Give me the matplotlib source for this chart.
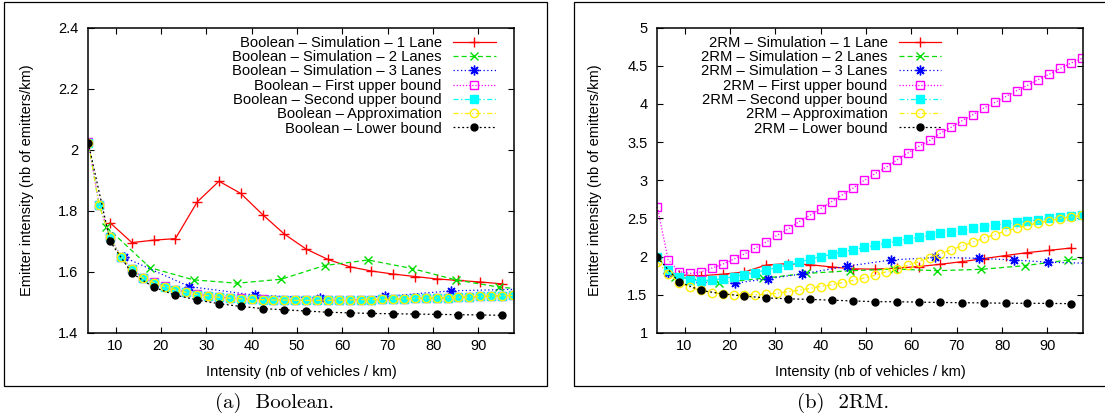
import matplotlib
matplotlib.use("Agg")
import matplotlib.pyplot as plt
from matplotlib.patches import Rectangle

plt.rcParams['font.family'] = ['Liberation Sans', 'DejaVu Sans']

#Abscisses communes (intensité en véhicules / km)
x_grille = [4.0, 6.4, 8.8, 11.2, 13.6, 16.0, 18.4, 20.8, 23.2, 25.6,
            28.0, 30.4, 32.8, 35.2, 37.6, 40.0, 42.4, 44.8, 47.2, 49.6,
            52.0, 54.4, 56.8, 59.2, 61.6, 64.0, 66.4, 68.8, 71.2, 73.6,
            76.0, 78.4, 80.8, 83.2, 85.6, 88.0, 90.4, 92.8, 95.2, 97.6]
x_pair = [4.0, 8.8, 13.6, 18.4, 23.2, 28.0, 32.8, 37.6, 42.4, 47.2,
          52.0, 56.8, 61.6, 66.4, 71.2, 76.0, 80.8, 85.6, 90.4, 95.2]

################ Boolean ################
bool_sim1_x = [8.8, 13.6, 18.4, 23.2, 28.0, 32.8, 37.6, 42.4, 47.2, 52.0,
               56.8, 61.6, 66.4, 71.2, 76.0, 80.8, 85.6, 90.4, 95.2]
bool_sim1_y = [1.761, 1.696, 1.704, 1.709, 1.829, 1.897, 1.857, 1.788, 1.724, 1.675,
               1.641, 1.617, 1.603, 1.593, 1.585, 1.577, 1.572, 1.567, 1.561]
bool_sim2_x = [7.95, 17.6, 27.2, 36.8, 46.5, 56.1, 65.7, 75.4, 85.0, 94.6, 97.9]
bool_sim2_y = [1.748, 1.614, 1.574, 1.563, 1.576, 1.621, 1.639, 1.611, 1.574, 1.550, 1.546]
bool_sim3_x = [11.9, 26.3, 40.7, 55.1, 69.5, 83.9, 97.9]
bool_sim3_y = [1.648, 1.552, 1.524, 1.514, 1.520, 1.538, 1.543]
bool_borne1_y = [2.024, 1.820, 1.715, 1.650, 1.610, 1.581, 1.566, 1.553, 1.542, 1.534,
                 1.527, 1.522, 1.518, 1.515, 1.513, 1.511, 1.510, 1.509, 1.508, 1.508,
                 1.507, 1.507, 1.507, 1.508, 1.508, 1.509, 1.509, 1.510, 1.511, 1.512,
                 1.513, 1.514, 1.515, 1.516, 1.517, 1.518, 1.520, 1.521, 1.522, 1.523]
bool_borne2_y = [2.022, 1.818, 1.713, 1.648, 1.609, 1.580, 1.565, 1.552, 1.541, 1.533,
                 1.526, 1.522, 1.517, 1.514, 1.512, 1.510, 1.509, 1.508, 1.508, 1.507,
                 1.507, 1.507, 1.507, 1.508, 1.508, 1.509, 1.509, 1.510, 1.511, 1.512,
                 1.513, 1.514, 1.515, 1.516, 1.517, 1.518, 1.520, 1.521, 1.522, 1.523]
bool_approx_y = [2.022, 1.818, 1.713, 1.648, 1.609, 1.580, 1.565, 1.552, 1.541, 1.533,
                 1.526, 1.522, 1.517, 1.514, 1.512, 1.510, 1.509, 1.508, 1.508, 1.507,
                 1.507, 1.507, 1.507, 1.508, 1.508, 1.509, 1.509, 1.510, 1.511, 1.512,
                 1.513, 1.514, 1.515, 1.516, 1.517, 1.518, 1.520, 1.521, 1.522, 1.523]
bool_inf_y = [2.022, 1.700, 1.596, 1.550, 1.524, 1.508, 1.496, 1.487, 1.480, 1.476,
              1.472, 1.468, 1.466, 1.464, 1.463, 1.462, 1.461, 1.460, 1.459, 1.458]

################ 2RM ################
rm_sim1_x = [6.4, 8.8, 13.6, 18.4, 23.2, 28.0, 32.8, 37.6, 42.4, 47.2,
             52.0, 56.8, 61.6, 66.4, 71.2, 76.0, 80.8, 85.6, 90.4, 95.2]
rm_sim1_y = [1.80, 1.76, 1.75, 1.77, 1.80, 1.89, 1.91, 1.895, 1.865, 1.84,
             1.836, 1.85, 1.87, 1.90, 1.935, 1.975, 2.015, 2.053, 2.083, 2.113]
rm_sim2_x = [7.95, 17.6, 27.2, 36.8, 46.5, 56.1, 65.7, 75.4, 85.0, 94.6, 97.9]
rm_sim2_y = [1.74, 1.657, 1.716, 1.78, 1.815, 1.838, 1.816, 1.834, 1.882, 1.956, 1.978]
rm_sim3_x = [6.4, 13.6, 21.1, 28.5, 36.0, 45.8, 55.5, 65.3, 75.0, 82.6, 90.1, 97.9]
rm_sim3_y = [1.783, 1.665, 1.652, 1.712, 1.774, 1.875, 1.956, 1.990, 1.978, 1.956, 1.928, 1.915]
rm_borne1_y = [2.652, 1.957, 1.804, 1.780, 1.800, 1.850, 1.900, 1.965, 2.035, 2.113,
               2.190, 2.280, 2.360, 2.457, 2.540, 2.630, 2.720, 2.810, 2.900, 3.000,
               3.087, 3.170, 3.265, 3.356, 3.443, 3.522, 3.617, 3.696, 3.783, 3.860,
               3.948, 4.020, 4.096, 4.174, 4.243, 4.320, 4.390, 4.465, 4.535, 4.596]
rm_borne2_y = [2.000, 1.826, 1.740, 1.696, 1.683, 1.696, 1.709, 1.740, 1.760, 1.790,
               1.826, 1.857, 1.890, 1.926, 1.965, 2.000, 2.030, 2.060, 2.090, 2.120,
               2.148, 2.174, 2.204, 2.230, 2.252, 2.278, 2.304, 2.326, 2.348, 2.370,
               2.390, 2.413, 2.430, 2.448, 2.465, 2.483, 2.500, 2.517, 2.530, 2.540]
rm_approx_y = [1.935, 1.774, 1.660, 1.600, 1.557, 1.530, 1.513, 1.504, 1.500, 1.500,
               1.509, 1.520, 1.540, 1.560, 1.583, 1.609, 1.630, 1.660, 1.690, 1.720,
               1.757, 1.800, 1.840, 1.887, 1.935, 1.987, 2.040, 2.090, 2.140, 2.190,
               2.245, 2.290, 2.335, 2.374, 2.410, 2.443, 2.472, 2.497, 2.520, 2.540]
rm_inf_y = [1.990, 1.670, 1.557, 1.513, 1.483, 1.460, 1.448, 1.440, 1.430, 1.420,
            1.410, 1.410, 1.404, 1.400, 1.397, 1.394, 1.390, 1.389, 1.388, 1.384]

legendes = ["Simulation \u2013 1 Lane", "Simulation \u2013 2 Lanes", "Simulation \u2013 3 Lanes",
            "First upper bound", "Second upper bound", "Approximation", "Lower bound"]

#Styles des courbes (couleur, tirets, marqueur)
styles = [
    dict(color='#ff0000', linestyle='-', marker='+', ms=6.5, mew=1.0),
    dict(color='#00dd00', dashes=(4, 2.5), marker='x', ms=5.5, mew=1.0),
    dict(color='#0000ff', dashes=(1, 2), marker=(8, 2, 0), ms=7, mew=1.0),
    dict(color='#ff00ff', dashes=(1, 1.5), marker='s', ms=6, mew=1.0, mfc='none'),
    dict(color='#00ffff', dashes=(4, 2, 1, 2), marker='s', ms=5.5, mew=1.0),
    dict(color='#ffee00', dashes=(4, 2, 1, 2), marker='o', ms=6, mew=1.0, mfc='none'),
    dict(color='#000000', dashes=(1.5, 2), marker='o', ms=5, mew=1.0),
]

W, H = 1105, 419
fig = plt.figure(figsize=(W / 100, H / 100), dpi=100)


def axes_px(x0, x1, y0, y1):
    return fig.add_axes([x0 / W, 1 - y1 / H, (x1 - x0) / W, (y1 - y0) / H])


def tracer(ax, prefixe, series, bbox_x):
    for (x, y, mk), nom, st in zip(series, legendes, styles):
        ax.plot(x, y, lw=0.9, markevery=mk, label=prefixe + " \u2013 " + nom, **st)
    ax.set_xlim(4.0, 97.9)
    ax.set_xticks([10, 20, 30, 40, 50, 60, 70, 80, 90])
    ax.tick_params(axis='both', direction='in', length=4.5, width=0.8,
                   top=True, right=True, labelsize=10.5)
    ax.tick_params(axis='x', pad=4)
    ax.tick_params(axis='y', pad=7)
    for sp in ax.spines.values():
        sp.set_linewidth(1.1)
    ax.set_xlabel("Intensity (nb of vehicles / km)", fontsize=10.5, va='center')
    ax.xaxis.set_label_coords(0.5, -0.128)
    ax.set_ylabel("Emitter intensity (nb of emitters/km)", fontsize=10.5, va='center')
    ax.legend(loc='upper right', bbox_to_anchor=(bbox_x, 0.973), frameon=False,
              markerfirst=False, handlelength=2.9, handletextpad=0.75,
              labelspacing=0.02, borderpad=0, borderaxespad=0, fontsize=10.6, numpoints=1)


#Graphe (a) Boolean
ax1 = axes_px(88.3, 514.3, 27.6, 333)
tracer(ax1, "Boolean", [
    (bool_sim1_x, bool_sim1_y, None),
    (bool_sim2_x, bool_sim2_y, list(range(10))),
    (bool_sim3_x, bool_sim3_y, list(range(6))),
    (x_grille, bool_borne1_y, None),
    (x_grille, bool_borne2_y, None),
    (x_grille, bool_approx_y, None),
    (x_pair, bool_inf_y, None),
], 0.956)
ax1.set_ylim(1.4, 2.4)
ax1.set_yticks([1.4, 1.6, 1.8, 2.0, 2.2, 2.4])
ax1.set_yticklabels(["1.4", "1.6", "1.8", "2", "2.2", "2.4"])
ax1.yaxis.set_label_coords(-0.144, 0.5)

#Graphe (b) 2RM
ax2 = axes_px(657.3, 1083.3, 27.6, 333)
tracer(ax2, "2RM", [
    (rm_sim1_x, rm_sim1_y, list(range(1, 20))),
    (rm_sim2_x, rm_sim2_y, list(range(10))),
    (rm_sim3_x, rm_sim3_y, list(range(11))),
    (x_grille, rm_borne1_y, None),
    (x_grille, rm_borne2_y, None),
    (x_grille, rm_approx_y, None),
    (x_pair, rm_inf_y, None),
], 0.667)
ax2.set_ylim(1, 5)
ax2.set_yticks([1, 1.5, 2, 2.5, 3, 3.5, 4, 4.5, 5])
ax2.set_yticklabels(["1", "1.5", "2", "2.5", "3", "3.5", "4", "4.5", "5"])
ax2.yaxis.set_label_coords(-0.146, 0.5)

#Cadres autour des deux figures
fig.patches.append(Rectangle((4 / W, 1 - 386 / H), 542.5 / W, 383.5 / H,
                             transform=fig.transFigure, fill=False, lw=0.9, ec='black'))
fig.patches.append(Rectangle((573.7 / W, 1 - 386 / H), 545 / W, 383.5 / H,
                             transform=fig.transFigure, fill=False, lw=0.9, ec='black'))

#Légendes sous les figures
fig.text(275 / W, 1 - 403 / H, "(a)  Boolean.", family='cmr10', fontsize=15,
         ha='center', va='center')
fig.text(843 / W, 1 - 403 / H, "(b)  2RM.", family='cmr10', fontsize=15,
         ha='center', va='center')

fig.savefig("out.png", dpi=100)
